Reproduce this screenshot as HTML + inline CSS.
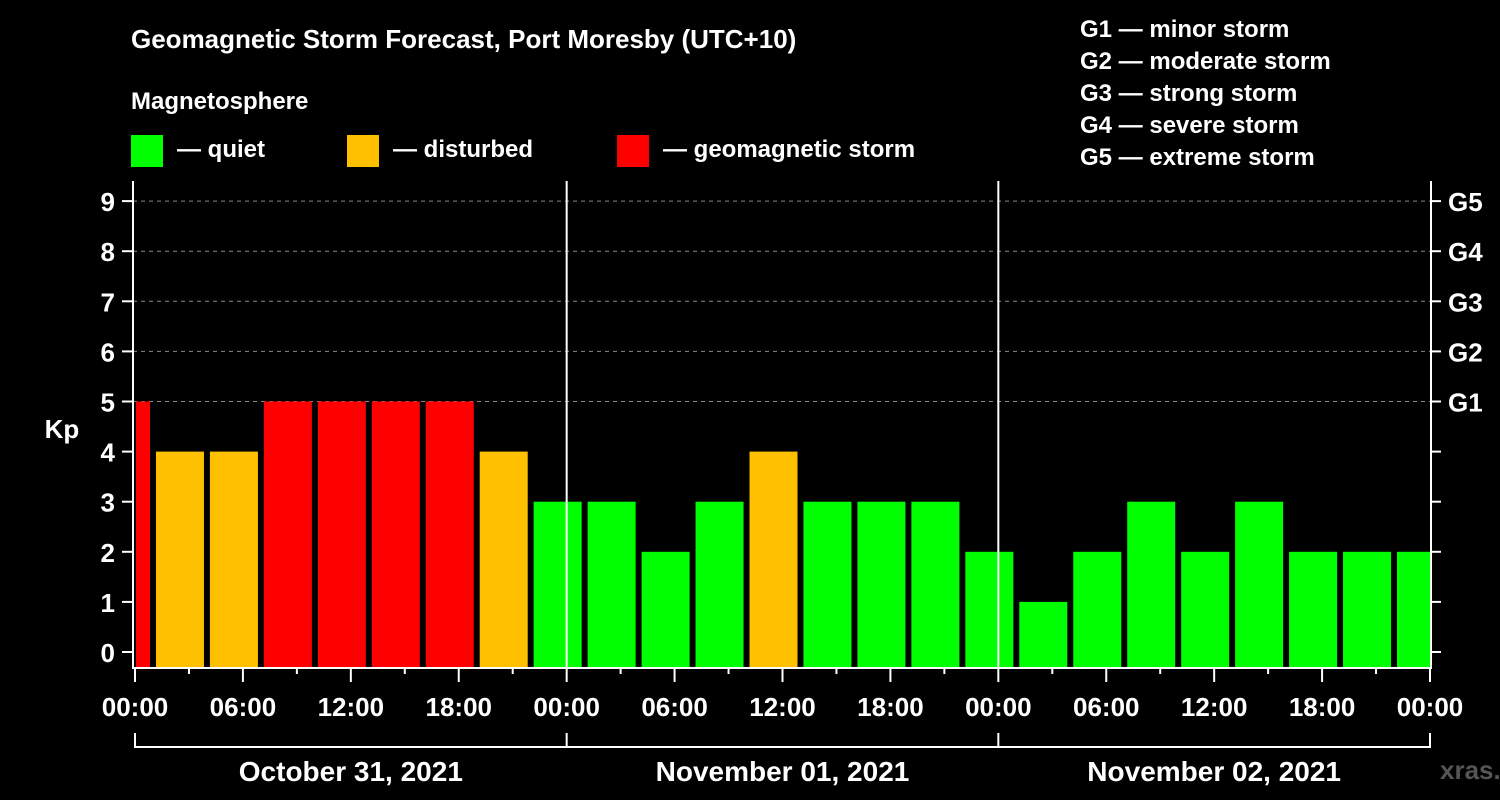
<!DOCTYPE html>
<html><head><meta charset="utf-8"><style>
html,body{margin:0;padding:0;background:#000;}
svg{display:block;font-family:"Liberation Sans",Arial,sans-serif;font-weight:bold;}
</style></head><body>
<svg id="chart" width="1500" height="800" viewBox="0 0 1500 800">
<rect x="0" y="0" width="1500" height="800" fill="#000"/>
<text x="131" y="48" fill="#fff" font-size="26">Geomagnetic Storm Forecast, Port Moresby (UTC+10)</text>
<text x="131" y="109" fill="#fff" font-size="24">Magnetosphere</text>
<g><rect x="131" y="135" width="32" height="32" fill="#00ff00"/><text x="177" y="157" fill="#fff" font-size="24">— quiet</text></g>
<g><rect x="347" y="135" width="32" height="32" fill="#ffc000"/><text x="393" y="157" fill="#fff" font-size="24">— disturbed</text></g>
<g><rect x="617" y="135" width="32" height="32" fill="#ff0000"/><text x="663" y="157" fill="#fff" font-size="24">— geomagnetic storm</text></g>
<g fill="#fff" font-size="24">
<text x="1080" y="37">G1 — minor storm</text>
<text x="1080" y="69">G2 — moderate storm</text>
<text x="1080" y="101">G3 — strong storm</text>
<text x="1080" y="133">G4 — severe storm</text>
<text x="1080" y="165">G5 — extreme storm</text>
</g>
<text x="62" y="438" fill="#fff" font-size="26" text-anchor="middle">Kp</text>
<text x="1440" y="779" fill="#555" font-size="26">xras.ru</text>
<g id="grid"></g><g id="bars"></g><g id="axes"></g>
</svg>
<script>
const values = [5,4,4,5,5,5,5,4, 3,3,2,3,4,3,3,3,2, 1,2,3,2,3,2,2,2];
const yTicks = [0,1,2,3,4,5,6,7,8,9];
const gLabels = ["G1","G2","G3","G4","G5"];
const gLevels = [5,6,7,8,9];
const xLabels = ["00:00","06:00","12:00","18:00","00:00","06:00","12:00","18:00","00:00","06:00","12:00","18:00","00:00"];
const dayLabels = ["October 31, 2021","November 01, 2021","November 02, 2021"];
const NS="http://www.w3.org/2000/svg";
const L=133,R=1431,T=181,B=668,HOUR0=135,PXH=(1430-135)/72;
const xs=h=>HOUR0+h*PXH;
const ys=v=>652-v*50.1;
function mk(tag,attrs,parent){const e=document.createElementNS(NS,tag);for(const k in attrs)e.setAttribute(k,attrs[k]);parent.appendChild(e);return e;}
const grid=document.getElementById('grid'),bars=document.getElementById('bars'),axes=document.getElementById('axes');
gLevels.forEach((v,i)=>{
  const l=mk('line',{x1:L,x2:R,y1:ys(v),y2:ys(v),stroke:'#888','stroke-dasharray':'4,4','stroke-width':1},grid);
  
  
  const t=mk('text',{x:1448,y:ys(v)+10,fill:'#fff','font-size':26},axes);t.textContent=gLabels[i];
  
  
});
values.forEach((v,k)=>{
  const c=-0.5+3*k;
  let x1=xs(c)-24,x2=xs(c)+24;
  x1=Math.max(x1,136);x2=Math.min(x2,1430);
  const col=v>=5?'#ff0000':(v>=4?'#ffc000':'#00ff00');
  const r=mk('rect',{x:x1,y:ys(v),width:x2-x1,height:B-ys(v),fill:col},bars);
  
  
});
// frame
mk('path',{d:`M${L} ${T}V${B}H${R}V${T}`,stroke:'#fff','stroke-width':2,fill:'none'},axes);
[1,2].forEach(d=>{const l=mk('line',{x1:xs(24*d),x2:xs(24*d),y1:T,y2:B,stroke:'#fff','stroke-width':2},axes);
  
  });
yTicks.forEach(v=>{
  mk('line',{x1:122,x2:L,y1:ys(v),y2:ys(v),stroke:'#fff','stroke-width':2},axes);
  mk('line',{x1:R,x2:1441,y1:ys(v),y2:ys(v),stroke:'#fff','stroke-width':2},axes);
  const t=mk('text',{x:115,y:ys(v)+10,fill:'#fff','font-size':26,'text-anchor':'end'},axes);t.textContent=v;
  
  
});
for(let h=0;h<=72;h+=3){const major=h%6===0;
  mk('line',{x1:xs(h),x2:xs(h),y1:B,y2:major?682:674,stroke:'#fff','stroke-width':2},axes);}
xLabels.forEach((s,i)=>{const t=mk('text',{x:xs(i*6),y:716,fill:'#fff','font-size':26,'text-anchor':'middle'},axes);t.textContent=s;
  
  });
mk('line',{x1:xs(0),x2:xs(72),y1:747,y2:747,stroke:'#fff','stroke-width':2},axes);
[0,24,48,72].forEach(h=>mk('line',{x1:xs(h),x2:xs(h),y1:733,y2:748,stroke:'#fff','stroke-width':2},axes));
dayLabels.forEach((s,i)=>{const t=mk('text',{x:xs(24*i+12),y:781,fill:'#fff','font-size':28,'text-anchor':'middle'},axes);t.textContent=s;
  
  });
</script>
</body></html>
